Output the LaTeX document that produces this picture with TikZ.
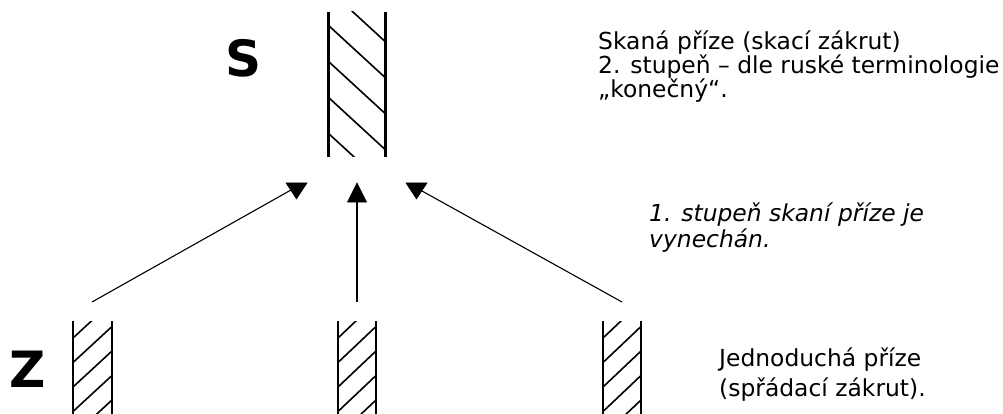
\documentclass[tikz,border=0pt]{standalone}
\usepackage{fontspec}
\setmainfont{DejaVu Sans}
\newcommand\mytightlines{\lineskiplimit-50pt\relax}
\begin{document}
\begin{tikzpicture}[x=1pt,y=-1pt,
  side/.style={line width=2pt,line cap=butt},
  sideS/.style={line width=3pt,line cap=butt},
  hatch/.style={line width=1.6pt},
  conn/.style={line width=1.1pt},
  head/.style={fill=black,draw=black,line width=0.5pt},
  bigletter/.style={font=\fontsize{50}{50}\selectfont\bfseries,inner sep=0pt},
  note/.style={font={\fontsize{23.4}{24}\selectfont\mytightlines},align=left,inner sep=0pt,anchor=base west},
  inote/.style={font={\fontsize{23.4}{26}\selectfont\mytightlines\itshape},align=left,inner sep=0pt,anchor=base west},
  bnote/.style={font={\fontsize{23.4}{30}\selectfont\mytightlines},align=left,inner sep=0pt,anchor=base west}]
\useasboundingbox (0,0) rectangle (1003,414);

% S strand (ply yarn)
\begin{scope}
  \clip (328,12) rectangle (385,157);
  \foreach \k in {0,...,5} {
    \draw[hatch] (328,{-11+36*\k}) -- (385,{-11+36*\k+52.4});
  }
\end{scope}
\draw[sideS] (328,12) -- (328,157);
\draw[sideS] (385,12) -- (385,157);

% Z strands (single yarns)
\foreach \xl/\xr in {73/112,338/376,603/641} {
  \begin{scope}
    \clip (\xl,321) rectangle (\xr,414);
    \foreach \k in {-1,...,4} {
      \draw[hatch] (\xl,{338+24.5*\k}) -- (\xr,{338+24.5*\k-36});
    }
  \end{scope}
  \draw[side] (\xl,321) -- (\xl,414);
  \draw[side] (\xr,321) -- (\xr,414);
}

% connector end points
\coordinate (zl) at (92,302);
\coordinate (zm) at (357,302);
\coordinate (zr) at (622,302);
\coordinate (hl) at (291,190);
\coordinate (hm) at (357,201);
\coordinate (hr) at (422,191);

\draw[conn] (zl) -- (hl);
\draw[conn] (zm) -- (hm);
\draw[conn] (zr) -- (hr);

% arrow heads
\fill[head] (286,183) -- (307,183) -- (296.5,199) -- cycle;
\fill[head] (357,183) -- (366.5,202) -- (347.5,202) -- cycle;
\fill[head] (406,183) -- (427,183) -- (416.5,199) -- cycle;

% labels
\node[bigletter] (S) at (244,58) {S};
\node[bigletter] (Z) at (28,369) {Z};

\node[note] (t1) at (598,98) {Skaná příze (skací zákrut)\\2. stupeň – dle ruské terminologie\\„konečný“.};
\node[inote] (t2) at (649,247) {1. stupeň skaní příze je\\vynechán.};
\node[bnote] (t3) at (719,396) {Jednoduchá příze\\(spřádací zákrut).};
\end{tikzpicture}
\end{document}
